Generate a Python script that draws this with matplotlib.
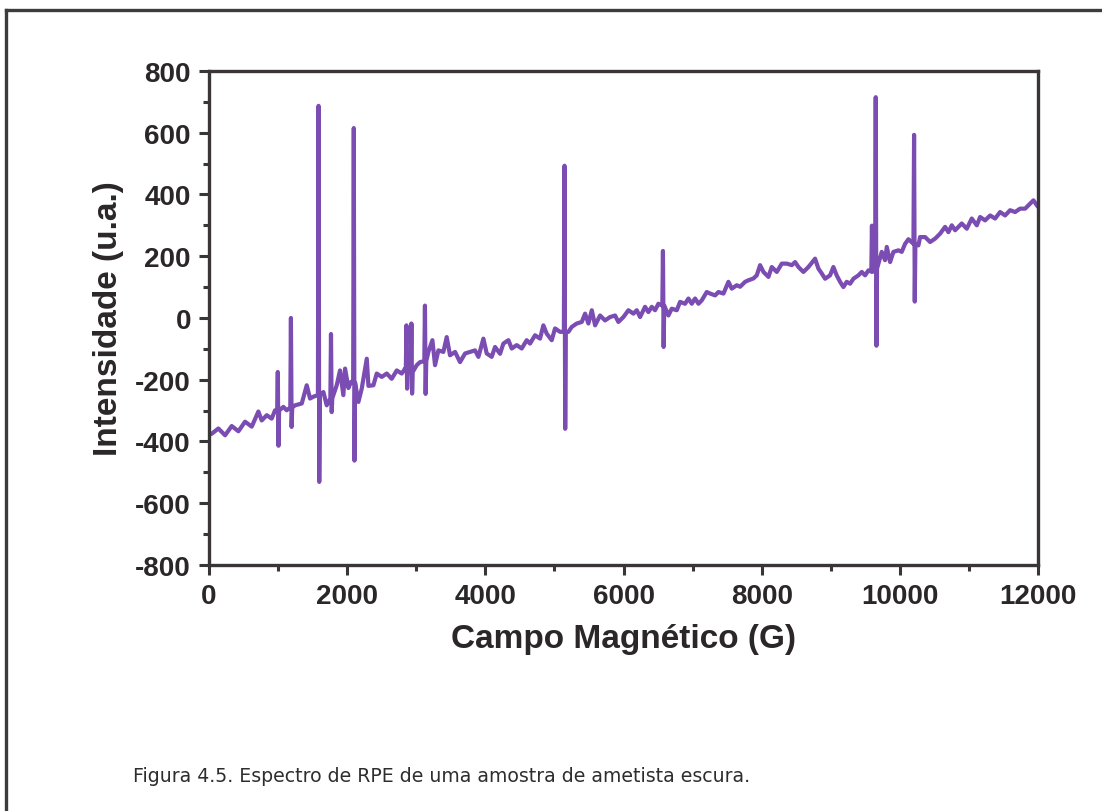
import matplotlib.pyplot as plt
from matplotlib.ticker import MultipleLocator
from matplotlib.lines import Line2D

plt.rcParams['axes.unicode_minus'] = False

# baseline of the EPR spectrum (field in G, intensity in a.u.)
campo = [0, 39, 135, 232, 328, 425, 521, 618, 714, 762, 835, 907, 955, 1076, 1124,
         1245, 1342, 1414, 1462, 1510, 1655, 1703, 1848, 1896, 1944, 1969, 2017, 2056,
         2162, 2210, 2283, 2307, 2379, 2427, 2500, 2572, 2644, 2717, 2789, 2837, 3006,
         3054, 3175, 3233, 3271, 3320, 3392, 3440, 3488, 3561, 3633, 3706, 3778, 3850,
         3899, 3971, 4019, 4091, 4140, 4212, 4260, 4333, 4381, 4453, 4526, 4598, 4646,
         4719, 4791, 4839, 4888, 4960, 5008, 5081, 5202, 5250, 5322, 5395, 5443, 5491,
         5540, 5588, 5660, 5732, 5805, 5877, 5925, 5998, 6070, 6143, 6191, 6239, 6311,
         6359, 6408, 6456, 6504, 6649, 6697, 6770, 6818, 6890, 6939, 6987, 7035, 7084,
         7132, 7204, 7253, 7325, 7373, 7446, 7518, 7566, 7639, 7687, 7759, 7807, 7880,
         7928, 7976, 8025, 8097, 8145, 8218, 8290, 8362, 8435, 8483, 8531, 8603, 8676,
         8772, 8820, 8869, 8917, 8989, 9037, 9085, 9134, 9182, 9230, 9279, 9327, 9399,
         9448, 9496, 9544, 9737, 9785, 9810, 9858, 9906, 9978, 10026, 10075, 10123,
         10268, 10292, 10365, 10437, 10510, 10582, 10654, 10702, 10751, 10799, 10847,
         10895, 10968, 11040, 11113, 11161, 11233, 11306, 11378, 11450, 11523, 11595,
         11667, 11740, 11812, 11885, 11933, 11981, 12000]
intensidade = [-378, -375, -358, -380, -350, -367, -336, -352, -303, -332, -315, -326,
               -299, -288, -299, -283, -277, -218, -261, -255, -240, -283, -218, -170,
               -250, -164, -227, -207, -272, -229, -132, -220, -218, -180, -191, -180,
               -197, -170, -180, -164, -153, -143, -110, -72, -153, -105, -110, -62,
               -121, -110, -143, -115, -110, -105, -126, -67, -115, -126, -94, -116,
               -83, -72, -99, -88, -99, -72, -83, -56, -67, -24, -51, -72, -34, -45,
               -45, -29, -18, -13, 14, -18, 25, -24, 8, -8, 3, 8, -13, 3, 25, 14, 25,
               3, 36, 19, 36, 25, 46, 8, 30, 25, 52, 46, 63, 46, 63, 46, 57, 84, 79,
               73, 84, 79, 117, 95, 106, 101, 117, 122, 128, 138, 171, 149, 133, 165,
               149, 176, 176, 171, 181, 165, 149, 165, 192, 160, 144, 127, 138, 165,
               138, 117, 100, 117, 111, 127, 138, 149, 138, 154, 214, 187, 230, 181,
               214, 219, 214, 240, 255, 235, 262, 262, 246, 257, 273, 295, 278, 300,
               284, 295, 306, 289, 322, 300, 327, 316, 332, 322, 343, 332, 349, 343,
               354, 354, 370, 381, 365, 360]

# sharp resonance lines: position, local baseline, positive lobe, negative lobe
linha_pos = [1000, 1190, 1590, 1770, 2100, 2862, 2934, 3130, 5150, 6575, 9600, 9655, 10210]
linha_base = [-300, -290, -250, -260, -210, -170, -175, -140, -45, 40, 150, 160, 240]
linha_max = [-175, 0, 687, -52, 615, -24, -18, 40, 493, 217, 299, 715, 593]
linha_min = [-414, -353, -531, -305, -462, -229, -245, -246, -359, -94, 150, -90, 53]

pts = list(zip(campo, intensidade))
for x0, yb, ymax, ymin in zip(linha_pos, linha_base, linha_max, linha_min):
    pts += [(x0 - 14, yb), (x0 - 5, ymax), (x0 + 5, ymin), (x0 + 14, yb)]
pts.sort()
xs = [p[0] for p in pts]
ys = [p[1] for p in pts]

fig = plt.figure(figsize=(11.02, 8.12), dpi=100)
ax = fig.add_axes([0.1897, 0.3030, 0.7523, 0.6084])
ax.plot(xs, ys, color='#7b4cb2', lw=3.0, solid_joinstyle='round')

ax.set_xlim(0, 12000)
ax.set_ylim(-800, 800)
ax.xaxis.set_major_locator(MultipleLocator(2000))
ax.xaxis.set_minor_locator(MultipleLocator(1000))
ax.yaxis.set_major_locator(MultipleLocator(200))
ax.yaxis.set_minor_locator(MultipleLocator(100))
ax.tick_params(which='both', direction='out', color='#3a3536', width=2.2,
               top=False, right=False)
ax.tick_params(which='major', length=7, pad=6)
ax.tick_params(which='minor', length=4)
for s in ax.spines.values():
    s.set_linewidth(2.4)
    s.set_color('#3a3536')

fnt = {'family': 'Liberation Sans', 'weight': 'bold'}
for lab in ax.get_xticklabels() + ax.get_yticklabels():
    lab.set_fontfamily('Liberation Sans')
    lab.set_fontweight('bold')
    lab.set_fontsize(20)
    lab.set_color('#2b2728')
ax.set_xlabel('Campo Magnético (G)', fontsize=24, color='#2b2728', labelpad=10, **fnt)
ax.set_ylabel('Intensidade (u.a.)', fontsize=24, color='#2b2728', labelpad=8, **fnt)

# caption and page frame
fig.text(0.1207, 0.044, 'Figura 4.5. Espectro de RPE de uma amostra de ametista escura.',
         fontsize=13.6, family='DejaVu Sans', color='#2e2e2e', va='center')
fig.add_artist(Line2D([0.005, 1.0], [0.987, 0.987], color='#3f3a3b', lw=2.4))
fig.add_artist(Line2D([0.005, 0.005], [0.0, 0.987], color='#3f3a3b', lw=2.4))

fig.savefig('out.png', dpi=100)
